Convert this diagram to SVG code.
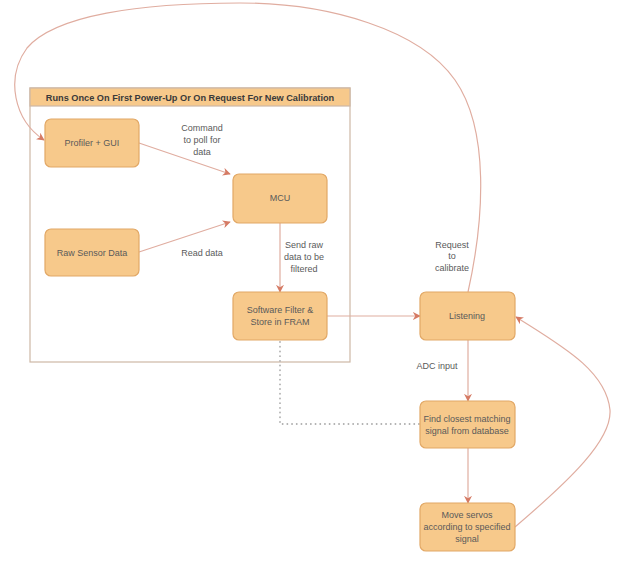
<svg xmlns="http://www.w3.org/2000/svg" width="624" height="562" viewBox="0 0 624 562">
<style>
.node{fill:#F7C98B;stroke:#E2A866;stroke-width:1.2}
.t{font-family:"Liberation Sans",Arial,sans-serif;font-size:9px;fill:#5a5a5a;text-anchor:middle}
.h{font-family:"Liberation Sans",Arial,sans-serif;font-size:9.2px;font-weight:bold;fill:#3a3a3a;text-anchor:middle}
.e{fill:none;stroke:#E0ADA0;stroke-width:1.2}
.d{fill:none;stroke:#AFAFAF;stroke-width:1.8;stroke-dasharray:0.1 4.6;stroke-linecap:round}
</style>
<defs>
<marker id="ah" viewBox="0 0 10 10" refX="9" refY="5" markerWidth="8" markerHeight="8" markerUnits="userSpaceOnUse" orient="auto">
<path d="M0,0 L10,5 L0,10 L3,5 Z" fill="#D57A64"/>
</marker>
</defs>
<rect width="624" height="562" fill="#ffffff"/>
<g id="container">
<rect x="30" y="88" width="320" height="274" fill="#ffffff" stroke="#CDB8A6" stroke-width="1.2"/>
<rect x="30" y="88" width="320" height="18" fill="#F7C98B" stroke="#CDB8A6" stroke-width="1.2"/>
<text class="h" x="190" y="101">Runs Once On First Power-Up Or On Request For New Calibration</text>
</g>
<g id="connectors">
<path class="e" d="M139,143 L230,174" marker-end="url(#ah)"/>
<path class="e" d="M139,252 L230,222" marker-end="url(#ah)"/>
<path class="e" d="M280,223 L280,292" marker-end="url(#ah)"/>
<path class="e" d="M327,316 L420,316" marker-end="url(#ah)"/>
<path class="e" d="M468,292 C484,220 490,130 455,80 C420,30 330,3 240,3 C140,3 55,15 27,48 C5,78 14,120 44,140" marker-end="url(#ah)"/>
<path class="e" d="M468,340 L468,401" marker-end="url(#ah)"/>
<path class="e" d="M468,448 L468,503" marker-end="url(#ah)"/>
<path class="e" d="M515,527 C570,480 612,440 610,410 C606,370 560,345 516,317" marker-end="url(#ah)"/>
<path class="d" d="M280,342 L280,424 L419,424"/>
<text class="t" x="202" y="131">Command</text>
<text class="t" x="202" y="143">to poll for</text>
<text class="t" x="202" y="155">data</text>
<text class="t" x="202" y="256">Read data</text>
<text class="t" x="304" y="248">Send raw</text>
<text class="t" x="304" y="260">data to be</text>
<text class="t" x="304" y="272">filtered</text>
<text class="t" x="452" y="248">Request</text>
<text class="t" x="452" y="259">to</text>
<text class="t" x="452" y="271">calibrate</text>
<text class="t" x="437" y="369">ADC input</text>
</g>
<g id="profiler">
<rect class="node" x="45" y="119" width="94" height="48" rx="6"/>
<text class="t" x="92" y="146">Profiler + GUI</text>
</g>
<g id="mcu">
<rect class="node" x="233" y="174" width="94" height="49" rx="6"/>
<text class="t" x="280" y="201">MCU</text>
</g>
<g id="raw-sensor">
<rect class="node" x="45" y="229" width="94" height="47" rx="6"/>
<text class="t" x="92" y="256">Raw Sensor Data</text>
</g>
<g id="software-filter">
<rect class="node" x="233" y="292" width="94" height="48" rx="6"/>
<text class="t" x="280" y="313">Software Filter &amp;</text>
<text class="t" x="280" y="325">Store in FRAM</text>
</g>
<g id="listening">
<rect class="node" x="420" y="292" width="95" height="48" rx="6"/>
<text class="t" x="467" y="319">Listening</text>
</g>
<g id="find-closest">
<rect class="node" x="420" y="401" width="95" height="47" rx="6"/>
<text class="t" x="467" y="422">Find closest matching</text>
<text class="t" x="467" y="434">signal from database</text>
</g>
<g id="move-servos">
<rect class="node" x="420" y="503" width="95" height="48" rx="6"/>
<text class="t" x="467" y="518">Move servos</text>
<text class="t" x="467" y="530">according to specified</text>
<text class="t" x="467" y="542">signal</text>
</g>
</svg>
